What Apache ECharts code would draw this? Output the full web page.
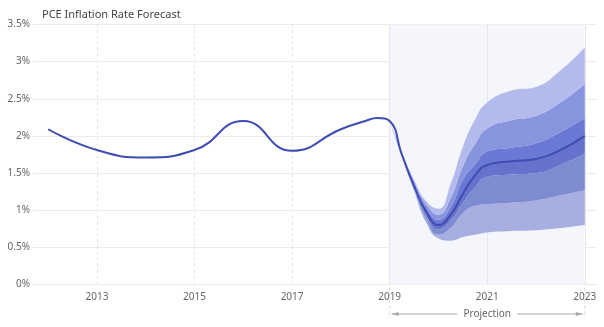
<!DOCTYPE html>
<html>
<head>
<meta charset="utf-8">
<script src="https://cdn.jsdelivr.net/npm/echarts@6/dist/echarts.min.js"></script>
<style>html,body{margin:0;padding:0;background:#fff}#c{width:604px;height:327px}</style>
</head>
<body>
<div id="c"></div>
<script>
// ---- data ----
const titleText = 'PCE Inflation Rate Forecast';
const tickYears = [2013, 2015, 2017, 2019, 2021, 2023];
const yTicks = [0, 0.5, 1, 1.5, 2, 2.5, 3, 3.5];
const histYears = [2012, 2013, 2014, 2015, 2016, 2017, 2018, 2018.5, 2018.75];
const histRate  = [2.09, 1.81, 1.71, 1.81, 2.20, 1.80, 2.09, 2.20, 2.24];
const projYears = [2019, 2019.25, 2019.5, 2019.75, 2020, 2020.25, 2020.5, 2020.75, 2021, 2021.5, 2022, 2022.5, 2023];
const projCenter = [2.20, 1.75, 1.33, 0.98, 0.80, 0.94, 1.22, 1.47, 1.61, 1.66, 1.69, 1.81, 2.00];
const outerLo = [2.20, 1.72, 1.26, 0.83, 0.62, 0.59, 0.64, 0.67, 0.70, 0.72, 0.73, 0.76, 0.80];
const midLo   = [2.20, 1.73, 1.28, 0.88, 0.67, 0.76, 0.96, 1.06, 1.08, 1.10, 1.13, 1.20, 1.27];
const innerLo = [2.20, 1.74, 1.31, 0.93, 0.74, 0.86, 1.10, 1.31, 1.45, 1.48, 1.50, 1.61, 1.76];
const innerHi = [2.20, 1.76, 1.35, 1.03, 0.87, 1.04, 1.41, 1.62, 1.79, 1.84, 1.90, 2.05, 2.24];
const midHi   = [2.20, 1.77, 1.38, 1.08, 0.94, 1.16, 1.59, 1.89, 2.10, 2.21, 2.27, 2.45, 2.70];
const outerHi = [2.20, 1.78, 1.41, 1.12, 1.02, 1.35, 1.85, 2.22, 2.45, 2.61, 2.66, 2.88, 3.19];
const projStart = 2019, projEnd = 2023;
const xMin = 2011.69, xMax = 2023.25;
const projLabel = 'Projection';

// ---- build ----
const FONT = 'Noto Sans';
const YEAR = 365.25 * 864e5;
const T = y => (y - 1970) * YEAR;   // fractional year -> time value (for the hidden stacking axis)
const allYears = histYears.concat(projYears);
const allRate = histRate.concat(projCenter);
const pairs = (xs, ys) => xs.map((x, i) => [x, ys[i]]);
const diffT = (a, b) => projYears.map((x, i) => [T(x), +(a[i] - b[i]).toFixed(4)]);

const bandDefs = [
  [midLo, outerLo, '#a7aee0'],
  [innerLo, midLo, '#7f8bd0'],
  [projCenter, innerLo, '#6672cb'],
  [innerHi, projCenter, '#6b78d4'],
  [midHi, innerHi, '#8894dd'],
  [outerHi, midHi, '#b3bbec']
];

const series = [];
series.push({
  type: 'line', data: [], silent: true, xAxisIndex: 0,
  markArea: { silent: true, z: 0, itemStyle: { color: '#f5f6fc' }, data: [[{ xAxis: projStart }, { xAxis: projEnd }]] },
  markLine: {
    silent: true, z: 1, symbol: 'none', label: { show: false },
    data: tickYears.map(t => ({
      xAxis: t,
      lineStyle: { color: t >= projStart ? '#e6e6ec' : '#e4e4e4', type: t >= projStart ? 'solid' : [3, 3], width: 1 }
    }))
  },
  z: 0
});
series.push({
  type: 'line', stack: 'fan', xAxisIndex: 1, data: projYears.map((x, i) => [T(x), outerLo[i]]), smooth: 0.5, symbol: 'none',
  lineStyle: { width: 0, opacity: 0 }, silent: true, z: 3
});
bandDefs.forEach(([a, b, c]) => {
  series.push({
    type: 'line', stack: 'fan', xAxisIndex: 1, data: diffT(a, b), smooth: 0.5, symbol: 'none',
    lineStyle: { width: 0, opacity: 0 }, areaStyle: { color: c, opacity: 1 }, silent: true, z: 3
  });
});
series.push({
  type: 'line', xAxisIndex: 0, data: pairs(allYears, allRate), smooth: 0.5, symbol: 'none',
  lineStyle: { color: '#3f4db3', width: 2 }, z: 6
});

const chart = echarts.init(document.getElementById('c'), null, { renderer: 'canvas' });
chart.setOption({
  animation: false,
  backgroundColor: '#fff',
  textStyle: { fontFamily: FONT },
  title: { text: titleText, left: 37, top: 4, textStyle: { fontSize: 11, fontWeight: 'normal', color: '#444', fontFamily: FONT } },
  grid: { left: 33, right: 7, top: 24.5, bottom: 42.5, containLabel: false },
  xAxis: [{
    type: 'value', min: xMin, max: xMax,
    axisLine: { show: false }, axisTick: { show: false },
    splitLine: { show: false },
    axisLabel: { customValues: tickYears, color: '#666', fontSize: 10, fontFamily: FONT, margin: 8, formatter: v => String(v) }
  }, {
    type: 'time', show: false, min: T(xMin), max: T(xMax), position: 'bottom',
    axisLine: { show: false }, axisTick: { show: false }, axisLabel: { show: false }, splitLine: { show: false }
  }],
  yAxis: {
    type: 'value', min: yTicks[0], max: yTicks[yTicks.length - 1], interval: 0.5,
    axisLine: { show: false }, axisTick: { show: false },
    splitLine: { lineStyle: { color: '#ebebeb', width: 1 } },
    axisLabel: { color: '#666', fontSize: 10, fontFamily: FONT, margin: 3, formatter: v => v + '%' }
  },
  series: series
});

// projection bracket
const x0 = chart.convertToPixel({ xAxisIndex: 0 }, projStart);
const x1 = chart.convertToPixel({ xAxisIndex: 0 }, projEnd);
const yb = chart.convertToPixel({ yAxisIndex: 0 }, 0);
const ya = 314, mid = (x0 + x1) / 2, gap = 30;
const gcol = '#aaa';
chart.setOption({
  graphic: [
    { type: 'line', shape: { x1: x0, y1: yb + 3, x2: x0, y2: ya + 4 }, style: { stroke: '#d8d8d8', lineDash: [3, 3], lineWidth: 1 } },
    { type: 'line', shape: { x1: x1, y1: yb + 3, x2: x1, y2: ya + 4 }, style: { stroke: '#d8d8d8', lineDash: [3, 3], lineWidth: 1 } },
    { type: 'line', shape: { x1: x0 + 2, y1: ya, x2: mid - gap, y2: ya }, style: { stroke: gcol, lineWidth: 1 } },
    { type: 'line', shape: { x1: mid + gap, y1: ya, x2: x1 - 2, y2: ya }, style: { stroke: gcol, lineWidth: 1 } },
    { type: 'polygon', shape: { points: [[x0 + 2, ya], [x0 + 9, ya - 2], [x0 + 9, ya + 2]] }, style: { fill: gcol } },
    { type: 'polygon', shape: { points: [[x1 - 2, ya], [x1 - 9, ya - 2], [x1 - 9, ya + 2]] }, style: { fill: gcol } },
    { type: 'text', x: mid, y: ya, style: { text: projLabel, fill: '#666', fontSize: 10, fontFamily: FONT, align: 'center', verticalAlign: 'middle' } }
  ]
});
</script>
</body>
</html>
